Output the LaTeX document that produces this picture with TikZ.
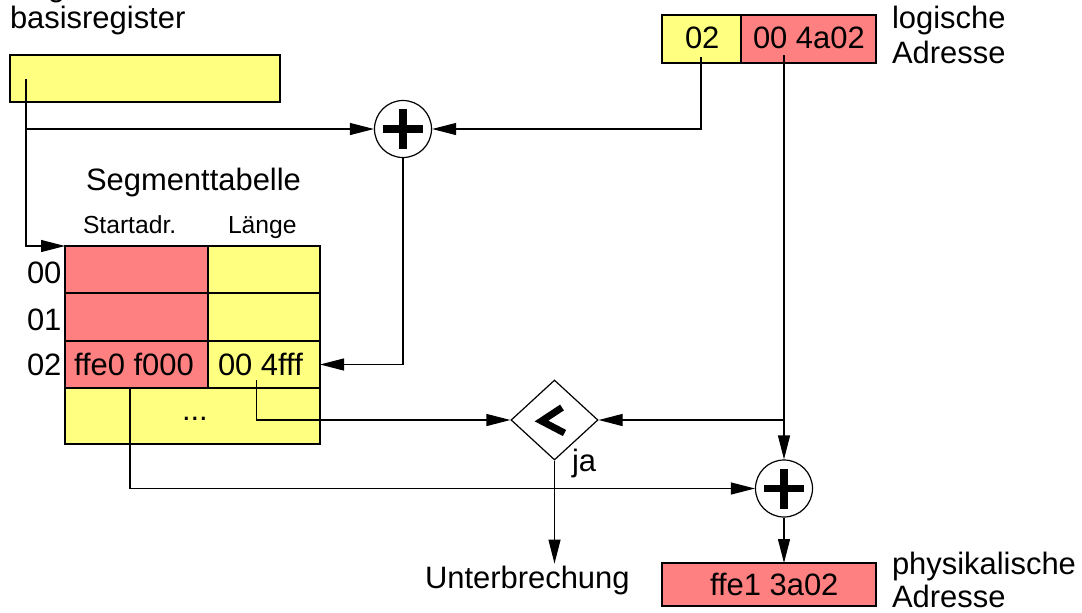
\documentclass[tikz,border=0pt]{standalone}
\usepackage{fontspec}
\setmainfont{Liberation Sans}
\usetikzlibrary{arrows.meta,shapes.geometric}
\definecolor{cyel}{HTML}{FFFF80}
\definecolor{cred}{HTML}{FF8080}
\newcommand{\bigtxt}{\fontsize{23.2}{28}\selectfont}
\newcommand{\smalltxt}{\fontsize{18.5}{22}\selectfont}
\tikzset{
  cell/.style={draw=black, line width=1.1pt, inner sep=0pt, outer sep=0pt, rectangle},
  ycell/.style={cell, fill=cyel},
  rcell/.style={cell, fill=cred},
  txt/.style={inner sep=0pt, outer sep=0pt, anchor=base west, font=\bigtxt},
  stxt/.style={inner sep=0pt, outer sep=0pt, anchor=base west, font=\smalltxt},
  conn/.style={draw=black, line width=0.9pt},
  arr/.style={conn, -{Triangle[length=18pt,width=9pt]}},
  adder/.style={draw=black, line width=0.9pt, circle, inner sep=0pt, minimum size=42.75pt, fill=white},
  cmpbox/.style={draw=black, line width=0.9pt, diamond, inner sep=0pt, minimum width=65.25pt, minimum height=60pt, fill=white},
  symb/.style={draw=black, line width=5.5pt, line cap=butt, miter limit=10}
}
\begin{document}
\begin{tikzpicture}[x=0.75pt,y=-0.75pt]
\useasboundingbox (0,0) rectangle (1082,612);
% top-left register
\node[txt] (lbsr1) at (10,-4) {Segmenttabellen-};
\node[txt] (lbsr2) at (10,28) {basisregister};
\node[ycell, minimum width=202.5pt, minimum height=35.25pt] (bsr) at (145,78.5) {};
% logical address
\node[ycell, minimum width=59.25pt, minimum height=36pt] (lseg) at (701.5,39) {};
\node[rcell, minimum width=101.25pt, minimum height=36pt] (loff) at (808.5,39) {};
\node[txt] (tseg) at (685,48) {02};
\node[txt] (toff) at (753,48) {00 4a02};
\node[txt] (llog1) at (892,28) {logische};
\node[txt] (llog2) at (892,63) {Adresse};
% segment table
\node[txt] (ltab) at (86,190) {Segmenttabelle};
\node[stxt] (lstart) at (83,233) {Startadr.};
\node[stxt] (llen) at (228,233) {Länge};
\node[rcell, minimum width=107.25pt, minimum height=35.25pt] (c00) at (136.5,269.5) {};
\node[ycell, minimum width=84pt, minimum height=35.25pt] (c01) at (264,269.5) {};
\node[rcell, minimum width=107.25pt, minimum height=36pt] (c10) at (136.5,317) {};
\node[ycell, minimum width=84pt, minimum height=36pt] (c11) at (264,317) {};
\node[rcell, minimum width=107.25pt, minimum height=35.25pt] (c20) at (136.5,364.5) {};
\node[ycell, minimum width=84pt, minimum height=35.25pt] (c21) at (264,364.5) {};
\node[ycell, minimum width=191.25pt, minimum height=42pt] (c3) at (192.5,416) {};
\node[txt] (r0) at (27,283) {00};
\node[txt] (r1) at (27,330) {01};
\node[txt] (r2) at (27,375) {02};
\node[txt] (tstart) at (74,375) {ffe0 f000};
\node[txt] (tlen) at (218,375) {00 4fff};
\node[txt] (tdots) at (182,420) {...};
% adders and comparator
\node[adder] (p1) at (403,129) {};
\node[adder] (p2) at (784,488.5) {};
\node[cmpbox] (cmp) at (554.5,420) {};
\draw[symb] ([shift={(-20,0)}]p1.center) -- ([shift={(20,0)}]p1.center);
\draw[symb] ([shift={(0,-20)}]p1.center) -- ([shift={(0,20)}]p1.center);
\draw[symb] ([shift={(-20,0)}]p2.center) -- ([shift={(20,0)}]p2.center);
\draw[symb] ([shift={(0,-20)}]p2.center) -- ([shift={(0,20)}]p2.center);
\draw[symb, line width=5.2pt] ([shift={(7.5,-12.5)}]cmp.center) -- ([shift={(-13,1)}]cmp.center) -- ([shift={(10,13)}]cmp.center);
\node[txt] (lja) at (572,471) {ja};
% outputs
\node[txt] (unt) at (425,588) {Unterbrechung};
\node[rcell, minimum width=160.5pt, minimum height=32.25pt] (phys) at (769,584.5) {};
\node[txt] (tphys) at (710,595) {ffe1 3a02};
\node[txt] (lphys1) at (892,574) {physikalische};
\node[txt] (lphys2) at (892,607) {Adresse};
% connector start points
\coordinate (b0) at (26,79);
\coordinate (b1) at (26,129);
\coordinate (s0) at (701,57);
\coordinate (o0) at (784,55);
\coordinate (o1) at (784,420);
\coordinate (l0) at (256.5,380);
\coordinate (st0) at (130,389);
% connectors
\draw[arr] (b0) |- (c00.north west);
\draw[arr] (b1) -- (p1.west);
\draw[arr] (s0) |- (p1.east);
\draw[arr] (p1.south) |- (c21.east);
\draw[arr] (o0) -- (p2.north);
\draw[arr] (o1) -- (cmp.east);
\draw[arr] (l0) |- (cmp.west);
\draw[arr] (st0) |- (p2.west);
\draw[arr] (cmp.south) -- ([yshift=1.5pt]unt.north -| cmp.south);
\draw[arr] (p2.south) -- (p2.south |- phys.north);
\end{tikzpicture}
\end{document}
